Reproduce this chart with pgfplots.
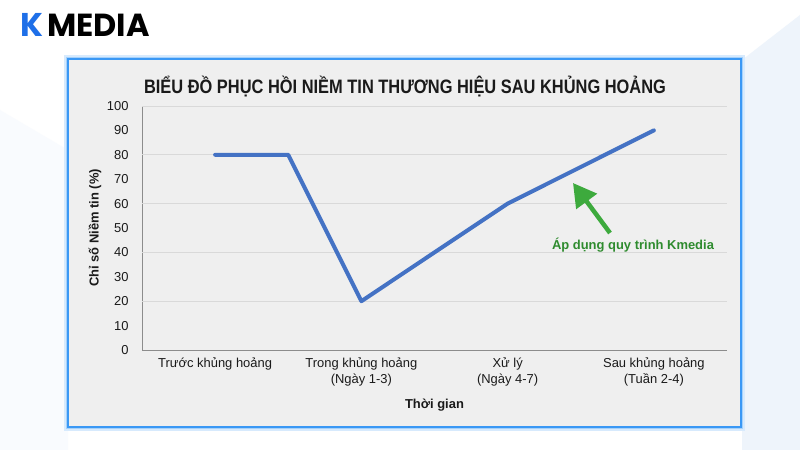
\documentclass[border=0pt]{standalone}
\usepackage{fontspec}
\setmainfont{Liberation Sans}
\newfontfamily\logofont{Poppins}
\usepackage{pgfplots}
\pgfplotsset{compat=1.18}
\usetikzlibrary{arrows.meta}

\definecolor{cardfill}{HTML}{EFEFEF}
\definecolor{glow}{HTML}{3A98F5}
\definecolor{series}{HTML}{4472C4}
\definecolor{gridc}{HTML}{D9D9D9}
\definecolor{axisc}{HTML}{8C8C8C}
\definecolor{txt}{HTML}{1A1A1A}
\definecolor{arrowg}{HTML}{3DAA3D}
\definecolor{textg}{HTML}{2E8B2E}
\definecolor{logoblue}{HTML}{1E6FE8}
\definecolor{bgpale}{HTML}{EEF4FB}

\begin{document}
\begin{tikzpicture}[x=1bp,y=1bp]
\useasboundingbox (0,0) rectangle (800,450);
% page background
\fill[white] (0,0) rectangle (800,450);
\fill[bgpale] (742,390) -- (800,435) -- (800,0) -- (742,0) -- cycle;
\fill[bgpale!35] (0,0) -- (68,0) -- (68,300) -- (0,340) -- cycle;

% logo
\node[anchor=base west, inner sep=0, text=logoblue, font=\logofont\bfseries\fontsize{33}{33}\selectfont] at (20,413) {K};
\node[anchor=base west, inner sep=0, text=black, font=\logofont\bfseries\fontsize{32}{32}\selectfont] at (47,413) {MEDIA};

% card with blue glow
\draw[glow!20, line width=8bp] (68,23) rectangle (741,391);
\draw[glow!45, line width=4.5bp] (68,23) rectangle (741,391);
\filldraw[fill=cardfill, draw=glow, line width=2bp] (68,23) rectangle (741,391);

% title
\node[font=\bfseries\fontsize{19.5}{19.5}\selectfont, text=txt] at (405,363)
  {\scalebox{0.845}[1]{BIỂU ĐỒ PHỤC HỒI NIỀM TIN THƯƠNG HIỆU SAU KHỦNG HOẢNG}};

\begin{axis}[
    at={(142bp,100bp)}, anchor=south west,
    width=585bp, height=244bp, scale only axis,
    xmin=0, xmax=4, ymin=0, ymax=100,
    axis lines=left,
    axis line style={-, draw=axisc, line width=0.9bp},
    xtick={0.5,1.5,2.5,3.5},
    xticklabels={Trước khủng hoảng, {Trong khủng hoảng\\(Ngày 1-3)}, {Xử lý\\(Ngày 4-7)}, {Sau khủng hoảng\\(Tuần 2-4)}},
    ytick={0,10,...,100},
    extra y ticks={20,40,60,80,100},
    extra y tick labels={},
    extra y tick style={grid=major, major grid style={draw=gridc, line width=0.8bp}},
    major tick length=0pt,
    /pgf/number format/assume math mode=true,
    tick label style={font=\fontsize{13}{16}\selectfont, text=txt},
    xticklabel style={align=center, anchor=north, yshift=-4bp},
    yticklabel style={anchor=east, xshift=-10bp},
    xlabel={Thời gian},
    ylabel={Chỉ số Niềm tin (\%)},
    every axis x label/.style={at={(axis description cs:0.5,0)}, anchor=center, yshift=-55bp,
        font=\bfseries\fontsize{13}{13}\selectfont, text=txt},
    every axis y label/.style={at={(axis description cs:-0.0803,0.5)}, anchor=center, rotate=90,
        font=\bfseries\fontsize{13}{13}\selectfont, text=txt},
    clip=false,
]
\addplot[series, line width=4bp, line join=round, line cap=round] coordinates {
    (0.5,80) (1.0,80) (1.5,20) (2.5,60) (3.5,90)
};
\end{axis}

% annotation
\draw[arrowg, line width=4.5bp, -{Triangle[length=23bp, width=25bp]}] (610,217) -- (573,267);
\node[font=\bfseries\fontsize{13}{13}\selectfont, text=textg] at (633,205) {Áp dụng quy trình Kmedia};
\end{tikzpicture}
\end{document}
